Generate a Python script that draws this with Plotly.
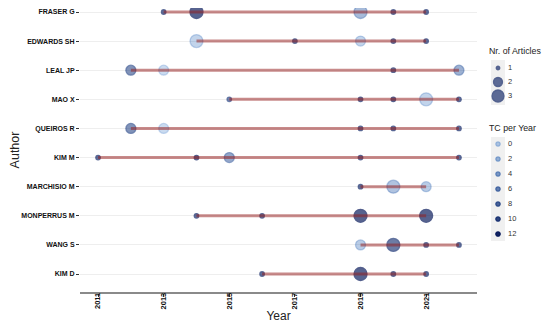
import plotly.graph_objects as go

# ---- data -------------------------------------------------------------
AUTHORS = ["FRASER G", "EDWARDS SH", "LEAL JP", "MAO X", "QUEIROS R",
           "KIM M", "MARCHISIO M", "MONPERRUS M", "WANG S", "KIM D"]

AUTHOR_COL = (["FRASER G"] * 5 + ["EDWARDS SH"] * 5 + ["LEAL JP"] * 4 +
              ["MAO X"] * 5 + ["QUEIROS R"] * 5 + ["KIM M"] * 5 +
              ["MARCHISIO M"] * 3 + ["MONPERRUS M"] * 4 + ["WANG S"] * 4 +
              ["KIM D"] * 4)
YEAR_COL = [2013, 2014, 2019, 2020, 2021,
            2014, 2017, 2019, 2020, 2021,
            2012, 2013, 2020, 2022,
            2015, 2019, 2020, 2021, 2022,
            2012, 2013, 2019, 2020, 2022,
            2011, 2014, 2015, 2019, 2022,
            2019, 2020, 2021,
            2014, 2016, 2019, 2021,
            2019, 2020, 2021, 2022,
            2016, 2019, 2020, 2021]
ARTICLES_COL = [1, 3, 3, 1, 1,
                3, 1, 2, 1, 1,
                2, 2, 1, 2,
                1, 1, 1, 3, 1,
                2, 2, 1, 1, 1,
                1, 1, 2, 1, 1,
                1, 3, 2,
                1, 1, 3, 3,
                2, 3, 1, 1,
                1, 3, 1, 1]
TCPY_COL = [11, 12, 4, 11, 11,
            1, 11, 1, 11, 11,
            8, 0, 11, 5,
            9, 11, 12, 1, 11,
            8, 0, 11, 11, 11,
            11, 12, 6, 11, 11,
            11, 3, 2,
            11, 11, 12, 12,
            2, 10, 11, 11,
            11, 12, 11, 11]

ARTICLE_LEVELS = [1, 2, 3]
TC_LEVELS = [0, 2, 4, 6, 8, 10, 12]
X_TICKS = [2011, 2013, 2015, 2017, 2019, 2021]

# ---- styling helpers --------------------------------------------------
LOW_RGB, HIGH_RGB = (30, 100, 190), (4, 22, 88)
ALPHA_LO, ALPHA_HI = 0.33, 0.95
SIZE_PX = {1: 4.5, 2: 10, 3: 13}


def rgba(tc):
    f = tc / 12.0
    c = [round(lo + (hi - lo) * f) for lo, hi in zip(LOW_RGB, HIGH_RGB)]
    a = ALPHA_LO + (ALPHA_HI - ALPHA_LO) * f
    return "rgba(%d,%d,%d,%.3f)" % (c[0], c[1], c[2], a)


FONT = "Liberation Sans, Arial, sans-serif"
# the page body has an 8px default margin: lay the figure out in page pixels
OFF = 8
PAGE_W, PAGE_H = 550, 332
W, H = PAGE_W - OFF, PAGE_H - OFF
PANEL_L, PANEL_R, PANEL_B = 80, 477, 292      # page pixels
ROW_TOP, ROW_BOT = 12, 274                     # page y of first / last author
ML, MB = PANEL_L - OFF, PAGE_H - PANEL_B
PW = W - ML
row_step = (ROW_BOT - ROW_TOP) / (len(AUTHORS) - 1)
y_lo = -(PANEL_B - ROW_BOT) / row_step
y_hi = (len(AUTHORS) - 1) + (ROW_TOP - OFF) / row_step

fig = go.Figure()

# points (drawn first, lines on top like the original)
fig.add_trace(go.Scatter(
    x=YEAR_COL, y=AUTHOR_COL, mode="markers",
    marker=dict(size=[SIZE_PX[a] for a in ARTICLES_COL],
                color=[rgba(t) for t in TCPY_COL],
                line=dict(color=[rgba(t) for t in TCPY_COL], width=1.3)),
    showlegend=False, hoverinfo="skip"))

# per-author timeline lines
for a in AUTHORS:
    xs = [y for au, y in zip(AUTHOR_COL, YEAR_COL) if au == a]
    fig.add_trace(go.Scatter(
        x=xs, y=[a] * len(xs), mode="lines",
        line=dict(color="rgba(150,30,30,0.52)", width=3),
        showlegend=False, hoverinfo="skip"))

# ---- manual legend on a helper axis (units = page pixels) -------------
KEY_X, LABEL_X, TITLE_X = 498, 508, 490
ART_TITLE_Y, ART_Y0, ART_STEP = 51, 68, 14
TC_TITLE_Y, TC_Y0, TC_STEP = 128, 144, 15

art_y = [ART_Y0 + ART_STEP * i for i in range(len(ARTICLE_LEVELS))]
tc_y = [TC_Y0 + TC_STEP * i for i in range(len(TC_LEVELS))]

fig.add_shape(type="rect", xref="x2", yref="y2", layer="below",
              x0=KEY_X - 7, x1=KEY_X + 7, y0=art_y[0] - 8, y1=art_y[-1] + 9,
              fillcolor="#f0f0f0", line=dict(width=0))
fig.add_shape(type="rect", xref="x2", yref="y2", layer="below",
              x0=KEY_X - 7, x1=KEY_X + 7, y0=tc_y[0] - 7, y1=tc_y[-1] + 7,
              fillcolor="#f0f0f0", line=dict(width=0))

fig.add_trace(go.Scatter(
    x=[KEY_X] * len(ARTICLE_LEVELS), y=art_y, xaxis="x2", yaxis="y2",
    mode="markers",
    marker=dict(size=[SIZE_PX[n] - 1 for n in ARTICLE_LEVELS], color=rgba(11),
                line=dict(color=rgba(11), width=1.3)),
    showlegend=False, hoverinfo="skip"))
fig.add_trace(go.Scatter(
    x=[LABEL_X] * len(ARTICLE_LEVELS), y=art_y, xaxis="x2", yaxis="y2",
    mode="text", text=[str(n) for n in ARTICLE_LEVELS], textposition="middle right",
    textfont=dict(size=7.5, color="#333"), showlegend=False, hoverinfo="skip"))
fig.add_trace(go.Scatter(
    x=[KEY_X] * len(TC_LEVELS), y=tc_y, xaxis="x2", yaxis="y2",
    mode="markers",
    marker=dict(size=4.5, color=[rgba(t) for t in TC_LEVELS],
                line=dict(color=[rgba(t) for t in TC_LEVELS], width=1.2)),
    showlegend=False, hoverinfo="skip"))
fig.add_trace(go.Scatter(
    x=[LABEL_X] * len(TC_LEVELS), y=tc_y, xaxis="x2", yaxis="y2",
    mode="text", text=[str(t) for t in TC_LEVELS], textposition="middle right",
    textfont=dict(size=7.5, color="#333"), showlegend=False, hoverinfo="skip"))

for txt, ty in (("Nr. of Articles", ART_TITLE_Y), ("TC per Year", TC_TITLE_Y)):
    fig.add_annotation(x=TITLE_X, y=ty, xref="x2", yref="y2", text=txt,
                       showarrow=False, xanchor="left", yanchor="middle",
                       xshift=-3, font=dict(size=8.8, color="#222"))

fig.update_layout(
    width=W, height=H,
    margin=dict(l=ML, r=0, t=0, b=MB),
    paper_bgcolor="white", plot_bgcolor="white",
    font=dict(family=FONT, color="#222222"),
    showlegend=False,
    xaxis=dict(domain=[0, (PANEL_R - PANEL_L) / PW],
               range=[2010.45, 2022.55], tickvals=X_TICKS,
               ticktext=[str(v) for v in X_TICKS],
               tickangle=-90, tickfont=dict(size=7.5, weight="bold", color="#111"),
               ticks="outside", ticklen=3, tickcolor="#333", tickwidth=1,
               ticklabelstandoff=-7,
               showline=True, linecolor="#8a8a8a", linewidth=1.5,
               showgrid=False, zeroline=False, automargin=False,
               title=dict(text="Year", font=dict(size=12, color="#222"), standoff=0)),
    yaxis=dict(type="category", categoryorder="array",
               categoryarray=list(reversed(AUTHORS)),
               range=[y_lo, y_hi],
               tickfont=dict(size=7, weight="bold", color="#111"),
               ticks="outside", ticklen=3, tickcolor="#333", tickwidth=1,
               showline=False, showgrid=True, gridcolor="#eeeeee", gridwidth=1,
               zeroline=False, automargin=False,
               title=dict(text="Author", font=dict(size=12.5, color="#222"), standoff=0)),
    xaxis2=dict(domain=[(PANEL_R + 8 - PANEL_L) / PW, 1], range=[PANEL_R + 8, PAGE_W],
                visible=False, anchor="y2", fixedrange=True),
    yaxis2=dict(domain=[0, 1], range=[PANEL_B, OFF], visible=False,
                anchor="x2", fixedrange=True),
)

fig.write_html("out.html")
